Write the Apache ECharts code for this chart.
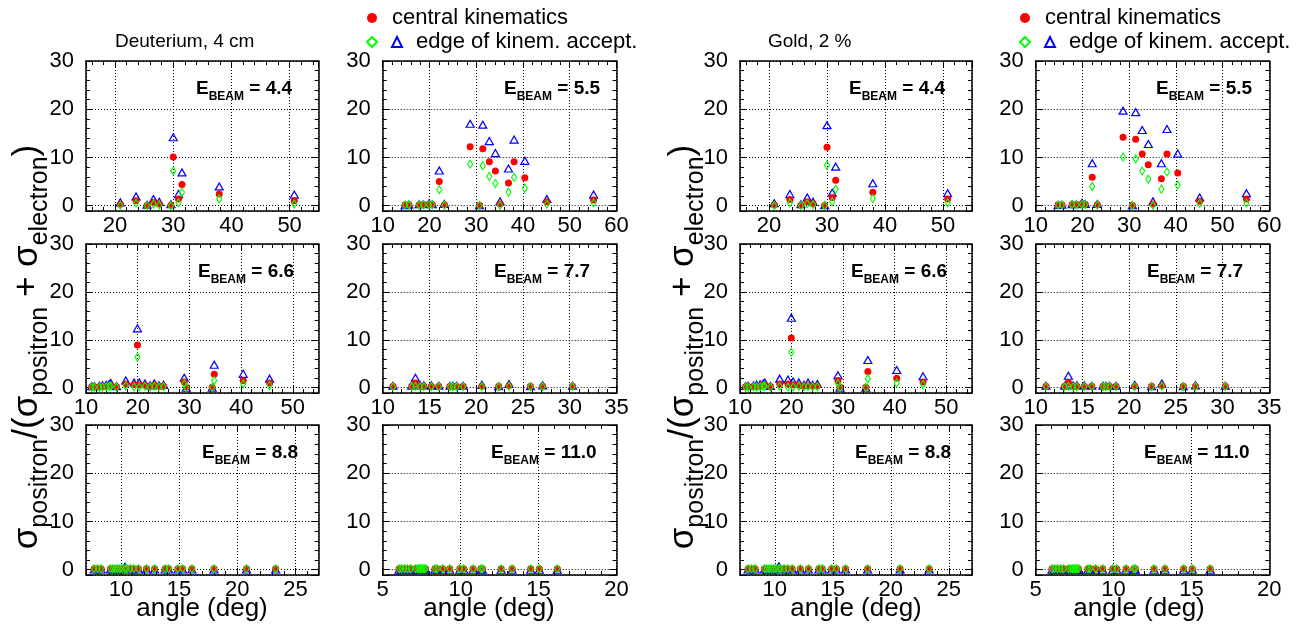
<!DOCTYPE html>
<html><head><meta charset="utf-8">
<script src="https://cdn.jsdelivr.net/npm/echarts@6/dist/echarts.min.js"></script>
<style>html,body{margin:0;padding:0;background:#fff}#c{width:1301px;height:630px}</style>
</head><body><div id="c"></div>
<script>
const FONT = '"Liberation Sans", Arial, Helvetica, sans-serif';

// ---- angles (deg) per beam energy ----
const angle44 = [20.9, 23.6, 25.5, 26.6, 27.6, 29.6, 30.0, 30.9, 31.5, 37.9, 50.8];
const angle55 = [14.8, 15.6, 17.8, 18.7, 19.9, 20.6, 22.1, 23.2, 28.7, 30.7, 31.4, 32.8, 34.1, 35.1, 36.9, 38.1, 40.4, 45.1, 55.1];
const angle66 = [11.1, 11.6, 12.6, 13.2, 13.9, 14.5, 14.8, 15.9, 17.7, 19.3, 19.95, 20.3, 21.4, 22.4, 23.2, 24.1, 25.0, 29.0, 29.4, 34.4, 34.8, 40.4, 45.5];
const angle77 = [11.1, 13.1, 13.5, 14.0, 14.4, 15.2, 16.0, 17.2, 17.5, 17.9, 18.6, 20.6, 22.4, 23.5, 25.8, 27.1, 30.3];
const angle88 = [7.7, 8.0, 8.3, 9.1, 9.3, 9.5, 9.7, 9.9, 10.1, 10.35, 10.5, 10.8, 11.1, 11.5, 12.2, 12.9, 13.8, 14.1, 14.9, 15.3, 16.1, 18.0, 20.8, 23.3];
const angle110 = [6.05, 6.2, 6.4, 6.6, 6.8, 7.1, 7.25, 7.35, 7.45, 7.55, 7.65, 7.75, 8.35, 8.5, 8.85, 9.3, 9.95, 10.2, 10.8, 11.3, 11.4, 12.6, 13.3, 14.5, 15.05, 16.2];

// ---- Deuterium, 4 cm ----
const d44Central = [0.3, 1.0, 0.05, 0.7, 0.35, 0.1, 10.1, 1.4, 4.4, 2.4, 1.0];
const d44EdgeHigh = [0.7, 1.9, 0.2, 1.4, 0.8, 0.3, 14.2, 2.4, 6.9, 4.0, 2.3];
const d44EdgeLow = [0.1, 0.5, 0.0, 0.35, 0.15, 0.0, 7.2, 0.6, 2.8, 1.4, 0.35];

const d55Central = [0.2, 0.2, 0.2, 0.25, 0.3, 0.25, 5.0, 0.2, 12.2, 0.1, 11.8, 9.1, 7.2, 0.35, 4.7, 9.1, 5.8, 0.8, 1.2];
const d55EdgeHigh = [0.1, 0.2, 0.3, 0.3, 0.5, 0.3, 7.3, 0.35, 17.0, 0.1, 16.8, 13.4, 10.9, 0.9, 7.7, 13.7, 9.3, 1.4, 2.3];
const d55EdgeLow = [0.15, 0.15, 0.15, 0.2, 0.2, 0.2, 3.3, 0.1, 8.6, 0.05, 8.3, 6.1, 4.6, 0.1, 2.8, 5.9, 3.6, 0.35, 0.55];

const d66Central = [0.2, 0.2, 0.2, 0.25, 0.3, 0.4, 0.5, 0.2, 0.8, 0.7, 8.9, 0.55, 0.5, 0.3, 0.5, 0.3, 0.3, 1.2, 0.1, 0.1, 2.8, 1.5, 1.0];
const d66EdgeHigh = [0.3, 0.3, 0.4, 0.5, 0.6, 0.8, 1.0, 0.3, 1.5, 1.1, 12.4, 1.1, 0.9, 0.5, 0.9, 0.5, 0.6, 2.1, 0.0, 0.0, 4.8, 2.9, 1.9];
const d66EdgeLow = [0.1, 0.1, 0.1, 0.15, 0.2, 0.3, 0.3, 0.1, 0.4, 0.15, 6.4, 0.15, 0.3, 0.15, 0.3, 0.15, 0.2, 0.8, 0.05, 0.05, 1.5, 0.8, 0.5];

const d77Central = [0.3, 0.3, 1.0, 0.3, 0.3, 0.3, 0.3, 0.3, 0.3, 0.3, 0.3, 0.3, 0.3, 0.4, 0.3, 0.3, 0.3];
const d77EdgeHigh = [0.4, 0.4, 2.1, 0.5, 0.5, 0.5, 0.4, 0.4, 0.4, 0.4, 0.4, 0.6, 0.3, 0.8, 0.3, 0.5, 0.4];
const d77EdgeLow = [0.2, 0.2, 0.3, 0.2, 0.2, 0.2, 0.2, 0.2, 0.2, 0.2, 0.2, 0.2, 0.2, 0.3, 0.2, 0.2, 0.2];

const d88Central = [0.2, 0.2, 0.2, 0.2, 0.2, 0.2, 0.2, 0.2, 0.2, 0.25, 0.2, 0.2, 0.2, 0.2, 0.2, 0.2, 0.2, 0.2, 0.2, 0.2, 0.2, 0.2, 0.2, 0.2];
const d88EdgeHigh = [0.05, 0.05, 0.05, 0.05, 0.05, 0.05, 0.05, 0.05, 0.1, 0.6, 0.1, 0.05, 0.05, 0.05, 0.05, 0.05, 0.05, 0.05, 0.05, 0.05, 0.05, 0.05, 0.05, 0.05];
const d88EdgeLow = [0.2, 0.2, 0.2, 0.2, 0.2, 0.2, 0.2, 0.2, 0.2, 0.2, 0.2, 0.2, 0.2, 0.2, 0.2, 0.2, 0.2, 0.2, 0.2, 0.2, 0.2, 0.2, 0.2, 0.2];

const d110Central = [0.2, 0.2, 0.2, 0.2, 0.2, 0.2, 0.2, 0.2, 0.2, 0.2, 0.2, 0.2, 0.2, 0.2, 0.2, 0.2, 0.2, 0.2, 0.2, 0.2, 0.2, 0.2, 0.2, 0.2, 0.2, 0.2];
const d110EdgeHigh = [0.0, 0.0, 0.0, 0.0, 0.0, 0.0, 0.0, 0.0, 0.0, 0.0, 0.0, 0.0, 0.0, 0.0, 0.0, 0.0, 0.0, 0.0, 0.0, 0.0, 0.0, 0.0, 0.0, 0.0, 0.0, 0.0];
const d110EdgeLow = [0.2, 0.2, 0.2, 0.2, 0.2, 0.2, 0.2, 0.2, 0.2, 0.2, 0.2, 0.2, 0.2, 0.2, 0.2, 0.2, 0.2, 0.2, 0.2, 0.2, 0.2, 0.2, 0.2, 0.2, 0.2, 0.2];

// ---- Gold, 2 % ----
const g44Central = [0.15, 1.3, 0.07, 0.8, 0.4, 0.05, 12.1, 1.7, 5.3, 2.8, 1.4];
const g44EdgeHigh = [0.5, 2.4, 0.3, 1.7, 0.8, 0.1, 16.7, 2.7, 8.1, 4.65, 2.6];
const g44EdgeLow = [0.0, 0.6, 0.0, 0.4, 0.2, 0.0, 8.4, 0.8, 3.4, 1.5, 0.6];

const g55Central = [0.2, 0.2, 0.25, 0.25, 0.35, 0.3, 5.9, 0.2, 14.2, 0.1, 13.8, 10.7, 8.5, 0.35, 5.6, 10.7, 6.8, 0.9, 1.4];
const g55EdgeHigh = [0.15, 0.2, 0.3, 0.3, 0.6, 0.35, 8.8, 0.35, 19.7, 0.1, 19.4, 15.7, 12.8, 0.9, 8.8, 15.9, 10.8, 1.7, 2.6];
const g55EdgeLow = [0.15, 0.15, 0.2, 0.2, 0.25, 0.2, 4.0, 0.1, 10.1, 0.05, 9.7, 7.2, 5.5, 0.1, 3.4, 7.0, 4.3, 0.5, 0.55];

const g66Central = [0.2, 0.25, 0.25, 0.3, 0.35, 0.5, 0.6, 0.25, 0.8, 0.8, 10.4, 0.6, 0.55, 0.35, 0.5, 0.35, 0.35, 1.5, 0.1, 0.1, 3.4, 2.0, 1.2];
const g66EdgeHigh = [0.35, 0.4, 0.45, 0.6, 0.7, 0.9, 1.1, 0.35, 1.9, 1.7, 14.6, 1.3, 1.1, 0.6, 1.1, 0.6, 0.8, 2.6, 0.0, 0.0, 5.8, 3.7, 2.4];
const g66EdgeLow = [0.1, 0.1, 0.15, 0.15, 0.2, 0.3, 0.35, 0.1, 0.3, 0.15, 7.4, 0.15, 0.3, 0.2, 0.25, 0.2, 0.2, 0.9, 0.05, 0.05, 1.9, 1.0, 0.7];

const g77Central = [0.3, 0.3, 1.1, 0.3, 0.3, 0.3, 0.3, 0.3, 0.3, 0.3, 0.3, 0.3, 0.3, 0.4, 0.3, 0.3, 0.3];
const g77EdgeHigh = [0.4, 0.4, 2.5, 0.5, 0.5, 0.5, 0.4, 0.4, 0.4, 0.4, 0.4, 0.6, 0.3, 0.9, 0.3, 0.5, 0.4];
const g77EdgeLow = [0.2, 0.2, 0.3, 0.2, 0.2, 0.2, 0.2, 0.2, 0.2, 0.2, 0.2, 0.2, 0.2, 0.3, 0.2, 0.2, 0.2];

const g88Central = [0.2, 0.2, 0.2, 0.2, 0.2, 0.2, 0.2, 0.2, 0.2, 0.25, 0.2, 0.2, 0.2, 0.2, 0.2, 0.2, 0.2, 0.2, 0.2, 0.2, 0.2, 0.2, 0.2, 0.2];
const g88EdgeHigh = [0.05, 0.05, 0.05, 0.05, 0.05, 0.05, 0.05, 0.05, 0.1, 0.7, 0.1, 0.05, 0.05, 0.05, 0.05, 0.05, 0.05, 0.05, 0.05, 0.05, 0.05, 0.05, 0.05, 0.05];
const g88EdgeLow = [0.2, 0.2, 0.2, 0.2, 0.2, 0.2, 0.2, 0.2, 0.2, 0.2, 0.2, 0.2, 0.2, 0.2, 0.2, 0.2, 0.2, 0.2, 0.2, 0.2, 0.2, 0.2, 0.2, 0.2];

const g110Central = [0.2, 0.2, 0.2, 0.2, 0.2, 0.2, 0.2, 0.2, 0.2, 0.2, 0.2, 0.2, 0.2, 0.2, 0.2, 0.2, 0.2, 0.2, 0.2, 0.2, 0.2, 0.2, 0.2, 0.2, 0.2, 0.2];
const g110EdgeHigh = [0.0, 0.0, 0.0, 0.0, 0.0, 0.0, 0.0, 0.0, 0.0, 0.0, 0.0, 0.0, 0.0, 0.0, 0.0, 0.0, 0.0, 0.0, 0.0, 0.0, 0.0, 0.0, 0.0, 0.0, 0.0, 0.0];
const g110EdgeLow = [0.2, 0.2, 0.2, 0.2, 0.2, 0.2, 0.2, 0.2, 0.2, 0.2, 0.2, 0.2, 0.2, 0.2, 0.2, 0.2, 0.2, 0.2, 0.2, 0.2, 0.2, 0.2, 0.2, 0.2, 0.2, 0.2];

// ---- axis ranges / beam labels ----
const range44 = [15, 55], range55 = [10, 60], range66 = [10, 55], range77 = [10, 35], range88 = [7, 27], range110 = [5, 20];
const yRange = [-1.1, 30];
const beamLabels = ['4.4', '5.5', '6.6', '7.7', '8.8', '11.0'];
const targetLabels = ['Deuterium, 4 cm', 'Gold, 2 %'];
const CENTRAL = 'central kinematics';
const EDGE = 'edge of kinem. accept.';
const EDGE_LOW = 'edge of kinem. accept. (low)';

// ---- layout ----
const colLeft = [86, 382.7, 740, 1035.7];
const colWidth = [232.7, 233.8, 232, 233.6];
const rowTop = [61, 244, 425];
const rowHeight = [150, 149, 150];

const panels = [
  {r:0,c:0,x:angle44,cen:d44Central,hi:d44EdgeHigh,lo:d44EdgeLow,range:range44,split:4,step:10,beam:0,tx:196},
  {r:0,c:1,x:angle55,cen:d55Central,hi:d55EdgeHigh,lo:d55EdgeLow,range:range55,split:5,step:10,beam:1,tx:504},
  {r:0,c:2,x:angle44,cen:g44Central,hi:g44EdgeHigh,lo:g44EdgeLow,range:range44,split:4,step:10,beam:0,tx:849},
  {r:0,c:3,x:angle55,cen:g55Central,hi:g55EdgeHigh,lo:g55EdgeLow,range:range55,split:5,step:10,beam:1,tx:1156},
  {r:1,c:0,x:angle66,cen:d66Central,hi:d66EdgeHigh,lo:d66EdgeLow,range:range66,split:4,step:10,beam:2,tx:198},
  {r:1,c:1,x:angle77,cen:d77Central,hi:d77EdgeHigh,lo:d77EdgeLow,range:range77,split:5,step:5,beam:3,tx:494},
  {r:1,c:2,x:angle66,cen:g66Central,hi:g66EdgeHigh,lo:g66EdgeLow,range:range66,split:4,step:10,beam:2,tx:851},
  {r:1,c:3,x:angle77,cen:g77Central,hi:g77EdgeHigh,lo:g77EdgeLow,range:range77,split:5,step:5,beam:3,tx:1147},
  {r:2,c:0,x:angle88,cen:d88Central,hi:d88EdgeHigh,lo:d88EdgeLow,range:range88,split:4,step:5,beam:4,tx:202},
  {r:2,c:1,x:angle110,cen:d110Central,hi:d110EdgeHigh,lo:d110EdgeLow,range:range110,split:3,step:5,beam:5,tx:491},
  {r:2,c:2,x:angle88,cen:g88Central,hi:g88EdgeHigh,lo:g88EdgeLow,range:range88,split:4,step:5,beam:4,tx:855},
  {r:2,c:3,x:angle110,cen:g110Central,hi:g110EdgeHigh,lo:g110EdgeLow,range:range110,split:3,step:5,beam:5,tx:1144}
];

const zip = (a, b) => a.map((v, i) => [v, b[i]]);
const black = '#000';

const grid = [], xAxis = [], yAxis = [], series = [], graphic = [];

function tickCfg(len){ return {show:true, inside:true, length:len, lineStyle:{color:black, width:1}}; }

panels.forEach((p, i) => {
  grid.push({left: colLeft[p.c], top: rowTop[p.r], width: colWidth[p.c], height: rowHeight[p.r], outerBoundsMode: 'none', containLabel: false});
  const xmin = p.range[0], xmax = p.range[1];
  const showMinX = xmin % p.step === 0, showMaxX = xmax % p.step === 0;
  xAxis.push({
    type:'value', gridIndex:i, position:'bottom', min:xmin, max:xmax, splitNumber:p.split,
    axisLine:{show:true, onZero:false, lineStyle:{color:black, width:1.5}},
    axisTick: tickCfg(7),
    minorTick:{show:true, splitNumber:5, length:4, lineStyle:{color:black, width:1}},
    axisLabel:{show:true, color:black, fontSize:22, fontFamily:FONT, margin:4, showMinLabel:showMinX, showMaxLabel:showMaxX, hideOverlap:false},
    splitLine:{show:true, lineStyle:{color:black, width:1, type:[1,2]}}
  });
  xAxis.push({
    type:'value', gridIndex:i, position:'top', min:xmin, max:xmax, splitNumber:p.split,
    axisLine:{show:true, onZero:false, lineStyle:{color:black, width:1.5}},
    axisTick: tickCfg(7),
    minorTick:{show:true, splitNumber:5, length:4, lineStyle:{color:black, width:1}},
    axisLabel:{show:false}, splitLine:{show:false}
  });
  yAxis.push({
    type:'value', gridIndex:i, position:'left', min:yRange[0], max:yRange[1], splitNumber:3,
    axisLine:{show:true, onZero:false, lineStyle:{color:black, width:1.5}},
    axisTick: tickCfg(7),
    minorTick:{show:true, splitNumber:5, length:4, lineStyle:{color:black, width:1}},
    axisLabel:{show:true, color:black, fontSize:22, fontFamily:FONT, margin:12, showMinLabel:false, showMaxLabel:true, hideOverlap:false},
    splitLine:{show:true, lineStyle:{color:black, width:1, type:[1,2]}}
  });
  yAxis.push({
    type:'value', gridIndex:i, position:'right', min:yRange[0], max:yRange[1], splitNumber:3,
    axisLine:{show:true, onZero:false, lineStyle:{color:black, width:1.5}},
    axisTick: tickCfg(7),
    minorTick:{show:true, splitNumber:5, length:4, lineStyle:{color:black, width:1}},
    axisLabel:{show:false}, splitLine:{show:false}
  });
  const xi = 2*i, yi = 2*i;
  series.push({
    type:'scatter', name:EDGE, xAxisIndex:xi, yAxisIndex:yi, data:zip(p.x, p.hi),
    symbol:'triangle', symbolSize:[8,7],
    itemStyle:{color:'rgba(255,255,255,0)', borderColor:'#0000ff', borderWidth:1.2, opacity:1},
    silent:true, z:2
  });
  series.push({
    type:'scatter', name:CENTRAL, xAxisIndex:xi, yAxisIndex:yi, data:zip(p.x, p.cen),
    symbol:'circle', symbolSize:7,
    itemStyle:{color:'#ff0000', opacity:1},
    silent:true, z:3
  });
  series.push({
    type:'scatter', name:EDGE_LOW, xAxisIndex:xi, yAxisIndex:yi, data:zip(p.x, p.lo),
    symbol:'diamond', symbolSize:[5,8],
    itemStyle:{color:'rgba(255,255,255,0)', borderColor:'#00ff00', borderWidth:1.2, opacity:1},
    silent:true, z:4
  });
  graphic.push({
    type:'text', left:p.tx, top:rowTop[p.r] + 18, silent:true,
    style:{
      text:'{a|E}{b|BEAM}{a| = ' + beamLabels[p.beam] + '}',
      rich:{
        a:{fontSize:19, fontWeight:'bold', fontFamily:FONT, fill:black, verticalAlign:'top', lineHeight:19},
        b:{fontSize:12, fontWeight:'bold', fontFamily:FONT, fill:black, verticalAlign:'bottom', lineHeight:24}
      }
    }
  });
});

// axis titles
const ytitle = '{s|σ}{p|positron}{s|/(σ}{p|positron}{s| + σ}{p|electron}{s|)}';
const yrich = {
  s:{fontSize:35, fontFamily:FONT, fill:black, verticalAlign:'top', lineHeight:35},
  p:{fontSize:25, fontFamily:FONT, fill:black, verticalAlign:'bottom', lineHeight:43}
};
[31, 687].forEach(cx => graphic.push({
  type:'text', x:cx, y:347, rotation:Math.PI/2, silent:true,
  style:{text:ytitle, rich:yrich, align:'center', verticalAlign:'middle'}
}));
[202, 489, 856, 1139].forEach(cx => graphic.push({
  type:'text', x:cx, y:609, silent:true,
  style:{text:'angle (deg)', fontSize:26, fontFamily:FONT, fill:black, align:'center', verticalAlign:'middle'}
}));
[[115, targetLabels[0]], [768, targetLabels[1]]].forEach(([lx, t]) => graphic.push({
  type:'text', x:lx, y:42, silent:true,
  style:{text:t, fontSize:19, fontFamily:FONT, fill:black, align:'left', verticalAlign:'middle'}
}));

const legTS = {color:black, fontSize:22, fontFamily:FONT};
const legend = [];
[0, 653].forEach(dx => {
  legend.push({
    data:[{name:CENTRAL, textStyle:{padding:[0,0,0,10]}}],
    left:367+dx, top:7, padding:0, itemWidth:10, itemHeight:10, selectedMode:false,
    textStyle:legTS
  });
  legend.push({
    data:[{name:EDGE_LOW}, {name:EDGE, textStyle:{padding:[0,0,0,9]}}],
    left:366+dx, top:31, padding:0, itemWidth:10, itemHeight:10, itemGap:13, selectedMode:false,
    formatter: n => n === EDGE_LOW ? '' : n,
    textStyle:legTS
  });
});

const chart = echarts.init(document.getElementById('c'), null, {renderer:'canvas'});
chart.setOption({
  animation:false,
  backgroundColor:'#fff',
  textStyle:{fontFamily:FONT},
  grid, xAxis, yAxis, series, legend, graphic
});
</script>
</body></html>
